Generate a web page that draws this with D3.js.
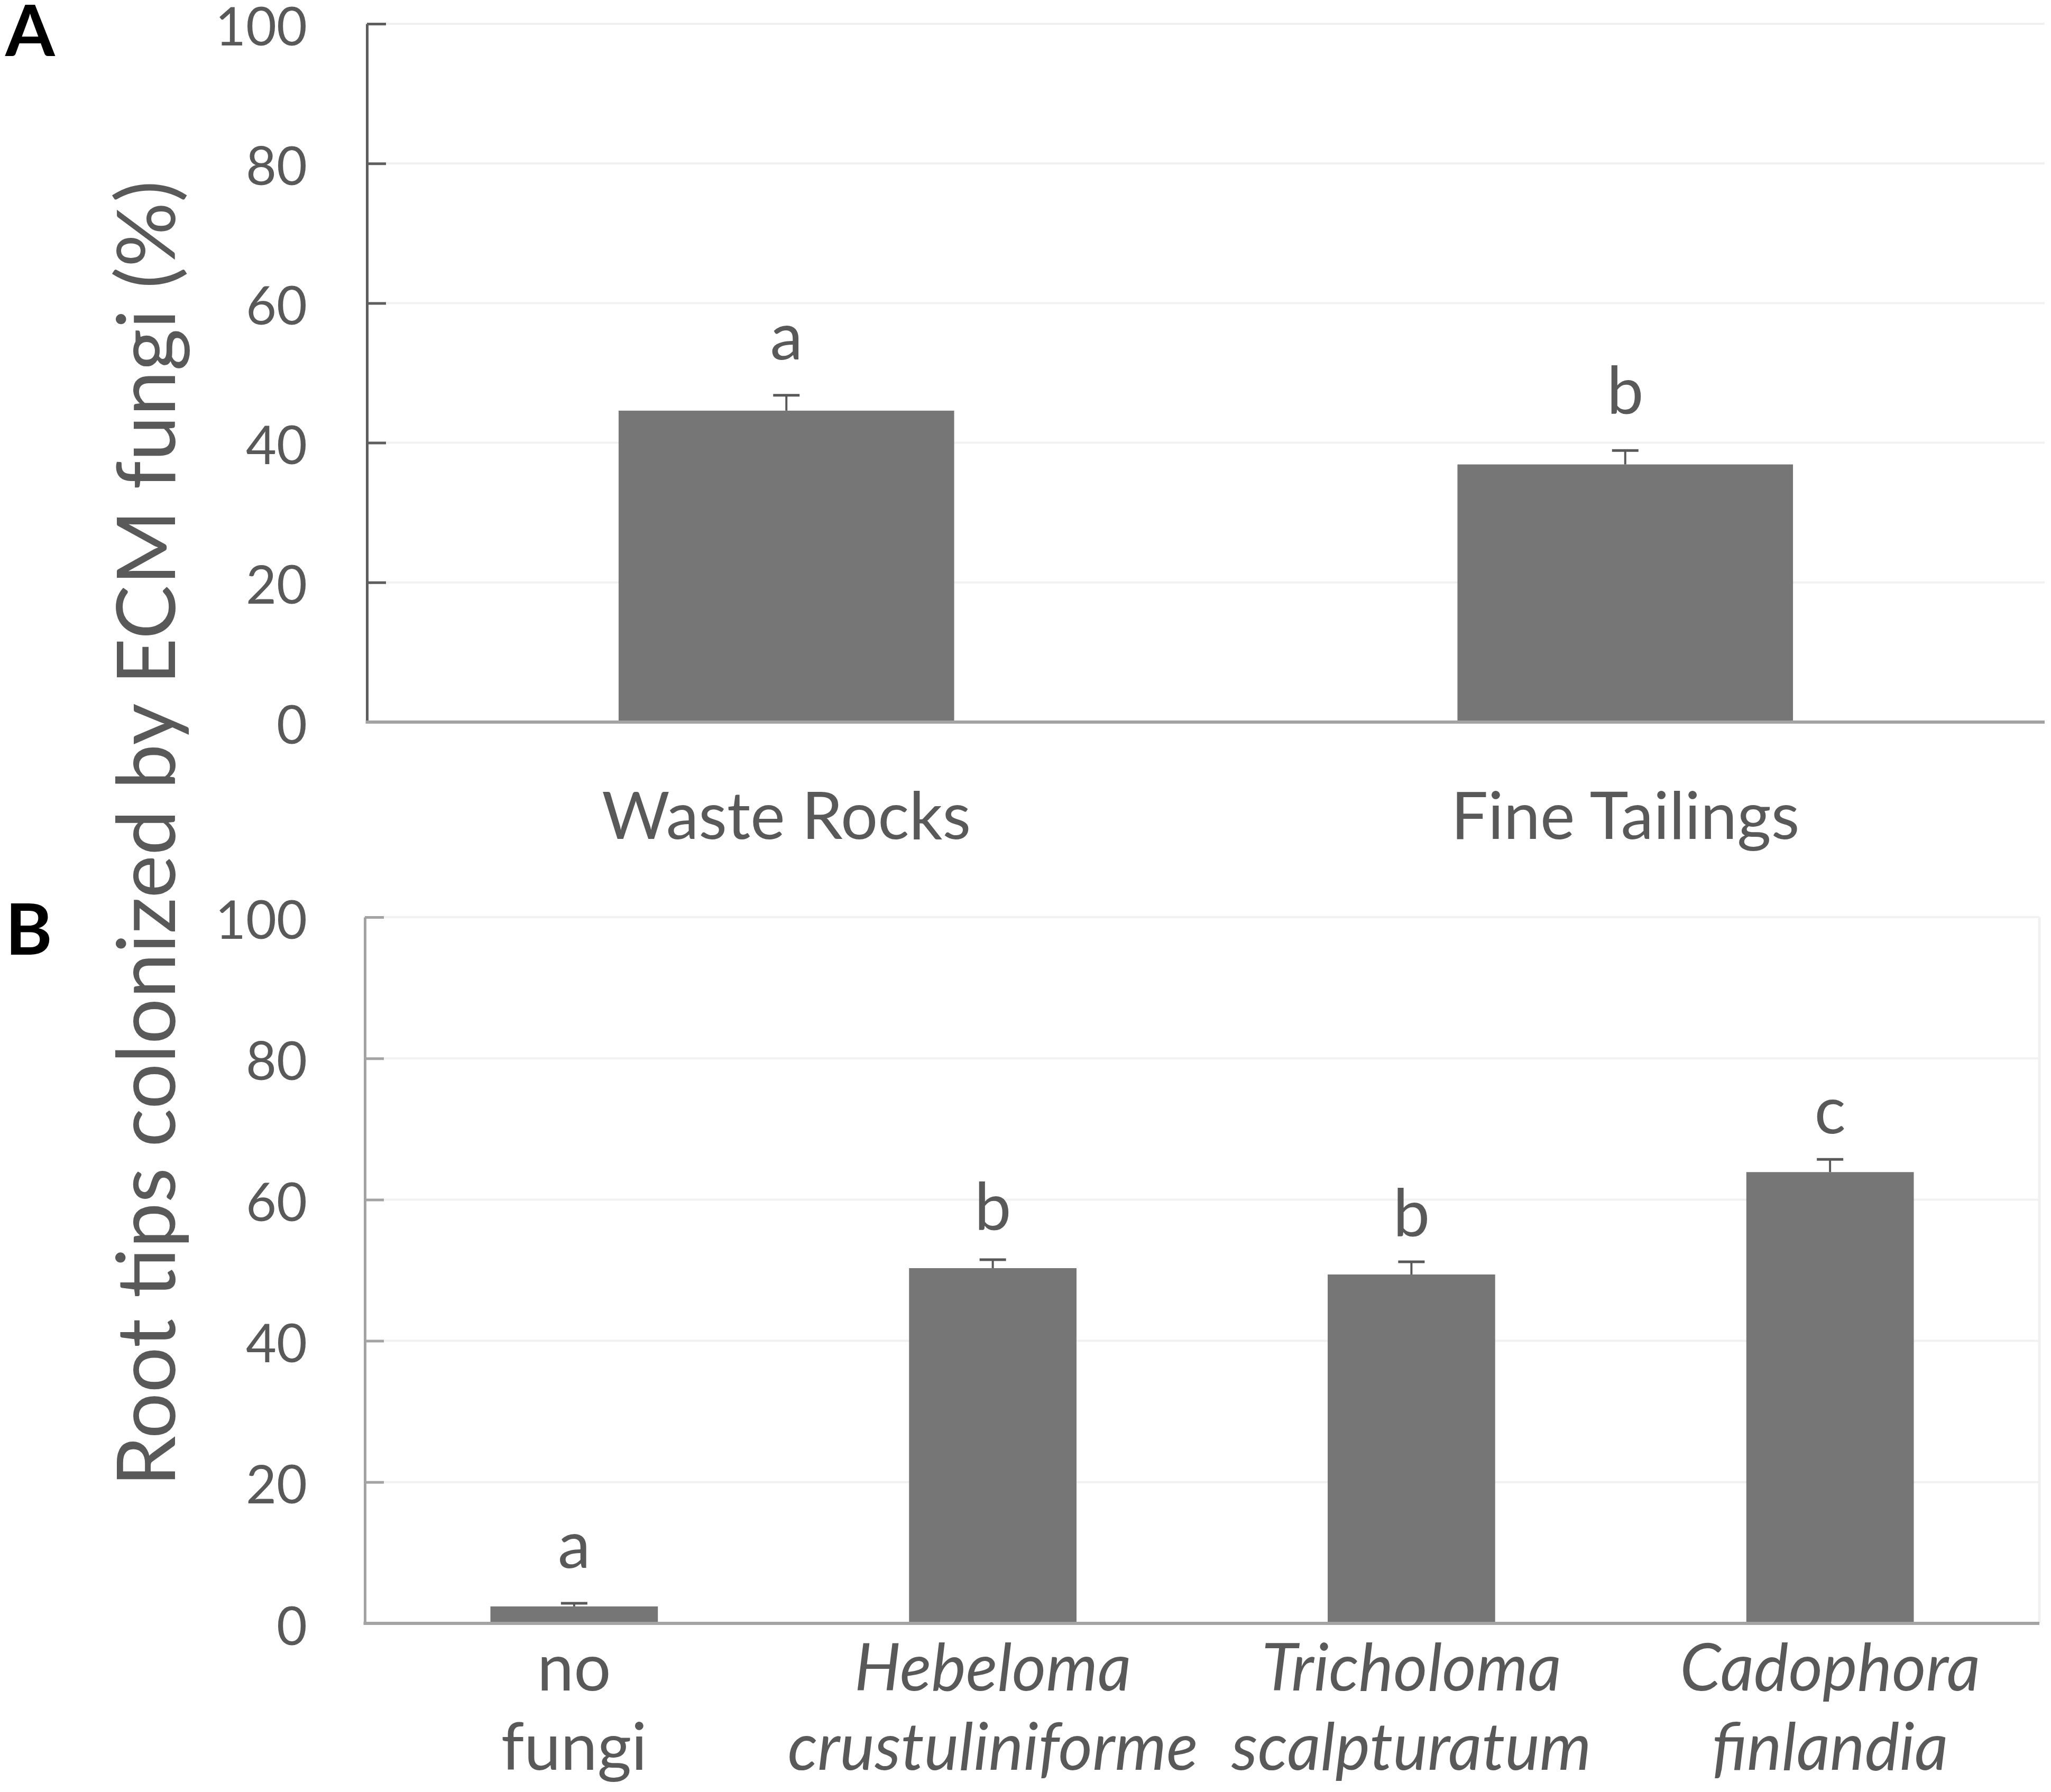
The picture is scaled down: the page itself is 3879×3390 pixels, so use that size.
<!DOCTYPE html>
<html>
<head>
<meta charset="utf-8">
<script src="https://cdn.jsdelivr.net/npm/d3@7/dist/d3.min.js"></script>
<style>
  html, body { margin: 0; padding: 0; background: #fff; }
  svg { display: block; }
  text { font-family: Lato, "Open Sans", sans-serif; }
</style>
</head>
<body>
<svg id="chart" width="3879" height="3390"></svg>
<script>
// ---------- data ----------
const panelACategories = ["Waste Rocks", "Fine Tailings"];
const panelAValues = [44.6, 36.9];
const panelAErrors = [2.2, 2.0];
const panelALetters = ["a", "b"];

const panelBCategories = ["no fungi", "Hebeloma crustuliniforme", "Tricholoma scalpturatum", "Cadophora finlandia"];
const panelBLabelLines = [["no", "fungi"], ["Hebeloma", "crustuliniforme"], ["Tricholoma", "scalpturatum"], ["Cadophora", "finlandia"]];
const panelBItalic = [false, true, true, true];
const panelBValues = [2.4, 50.3, 49.4, 63.9];
const panelBErrors = [0.45, 1.2, 1.8, 1.8];
const panelBLetters = ["a", "b", "b", "c"];

const yTicks = [0, 20, 40, 60, 80, 100];
const yTitle = "Root tips colonized by ECM fungi (%)";
const panelLabels = ["A", "B"];

// ---------- style ----------
const textColor = "#595959";
const barColor = "#767676";
const lightAxis = "#a3a3a3";
const gridColor = "#f1f1f1";

const svg = d3.select("#chart");

function drawPanel(cfg) {
  const g = svg.append("g");
  const x = d3.scaleBand().domain(cfg.categories).range([cfg.x0, cfg.x1])
    .paddingInner(0.6).paddingOuter(0.3);
  const y = d3.scaleLinear().domain([0, 100]).range([cfg.yBottom, cfg.yTop]);

  // gridlines
  g.append("g").selectAll("line").data(yTicks.filter(t => t > 0)).join("line")
    .attr("x1", cfg.x0).attr("x2", cfg.x1)
    .attr("y1", d => y(d)).attr("y2", d => y(d))
    .attr("stroke", gridColor).attr("stroke-width", 4);

  if (cfg.rightBorder) {
    g.append("line").attr("x1", cfg.x1).attr("x2", cfg.x1)
      .attr("y1", y(100)).attr("y2", y(0))
      .attr("stroke", gridColor).attr("stroke-width", 5);
  }

  // bars
  g.append("g").selectAll("rect").data(cfg.values).join("rect")
    .attr("x", (d, i) => x(cfg.categories[i]))
    .attr("width", x.bandwidth())
    .attr("y", d => y(d))
    .attr("height", d => y(0) - y(d))
    .attr("fill", barColor);

  // error bars
  const eb = g.append("g").attr("stroke", textColor);
  cfg.values.forEach((v, i) => {
    const cx = x(cfg.categories[i]) + x.bandwidth() / 2;
    eb.append("line").attr("x1", cx).attr("x2", cx)
      .attr("y1", y(v)).attr("y2", y(v + cfg.errors[i])).attr("stroke-width", 4);
    eb.append("line").attr("x1", cx - 25).attr("x2", cx + 25)
      .attr("y1", y(v + cfg.errors[i])).attr("y2", y(v + cfg.errors[i])).attr("stroke-width", 5);
  });

  // significance letters
  g.append("g").selectAll("text").data(cfg.letters).join("text")
    .attr("x", (d, i) => x(cfg.categories[i]) + x.bandwidth() / 2)
    .attr("y", (d, i) => y(cfg.values[i]) - cfg.letterOffset)
    .attr("text-anchor", "middle")
    .attr("font-size", 124)
    .attr("fill", textColor)
    .text(d => d);

  // y axis
  const axis = d3.axisLeft(y).tickValues(yTicks).tickSizeInner(-36).tickSizeOuter(0)
    .tickPadding(cfg.x0 - 581).tickFormat(d3.format("d"));
  const ag = g.append("g").attr("transform", `translate(${cfg.x0},0)`).call(axis);
  ag.select(".domain").attr("stroke", cfg.axisColor).attr("stroke-width", 5);
  ag.selectAll(".tick line").attr("stroke", cfg.axisColor).attr("stroke-width", 5);
  ag.selectAll(".tick text").attr("fill", textColor).attr("font-size", 100)
    .attr("font-family", "Lato, sans-serif").attr("dy", "0.4em");

  // baseline
  g.append("line").attr("x1", cfg.x0 - 2.5).attr("x2", cfg.x1)
    .attr("y1", y(0)).attr("y2", y(0))
    .attr("stroke", lightAxis).attr("stroke-width", 6);

  return { x, y, g };
}

// Panel A
const pA = drawPanel({
  categories: panelACategories, values: panelAValues, errors: panelAErrors,
  letters: panelALetters, x0: 694, x1: 3867, yTop: 45, yBottom: 1366,
  axisColor: "#5e5e5e", letterOffset: 97, rightBorder: false
});
pA.g.append("g").selectAll("text").data(panelACategories).join("text")
  .attr("x", d => pA.x(d) + pA.x.bandwidth() / 2)
  .attr("y", 1587)
  .attr("text-anchor", "middle")
  .attr("font-size", 124)
  .attr("fill", textColor)
  .text(d => d);

// Panel B
const pB = drawPanel({
  categories: panelBCategories, values: panelBValues, errors: panelBErrors,
  letters: panelBLetters, x0: 690, x1: 3857, yTop: 1735, yBottom: 3071,
  axisColor: lightAxis, letterOffset: 73, rightBorder: true
});
const lblB = pB.g.append("g").selectAll("text").data(panelBCategories).join("text")
  .attr("text-anchor", "middle")
  .attr("font-size", 124)
  .attr("fill", textColor)
  .attr("font-style", (d, i) => panelBItalic[i] ? "italic" : "normal");
lblB.each(function (d, i) {
  const t = d3.select(this);
  const cx = pB.x(d) + pB.x.bandwidth() / 2;
  panelBLabelLines[i].forEach((line, j) => {
    t.append("tspan").attr("x", cx).attr("y", 3198 + j * 150).text(line);
  });
});

// Y title
svg.append("text")
  .attr("transform", "translate(331,1577) rotate(-90)")
  .attr("text-anchor", "middle")
  .attr("font-size", 153)
  .attr("fill", textColor)
  .text(yTitle);

// Panel letters
svg.selectAll("text.panel").data(panelLabels).join("text")
  .attr("class", "panel")
  .attr("x", 10)
  .attr("y", (d, i) => i === 0 ? 106 : 1806)
  .attr("font-family", "'Liberation Sans', Arial, sans-serif")
  .attr("font-weight", "bold")
  .attr("font-size", 135)
  .attr("fill", "#000")
  .text(d => d);
</script>
</body>
</html>
